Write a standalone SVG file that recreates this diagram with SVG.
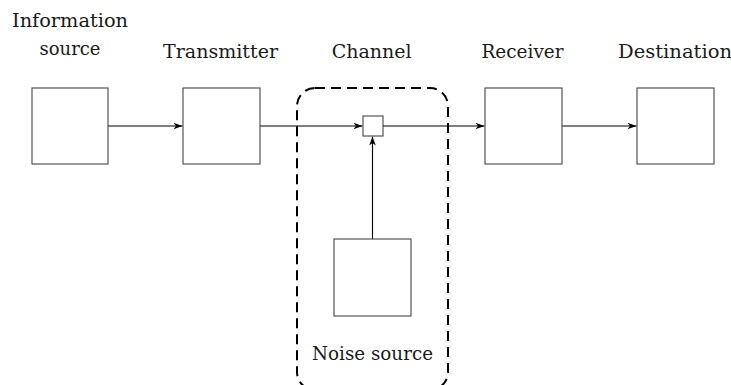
<svg xmlns="http://www.w3.org/2000/svg" width="731" height="385" viewBox="0 0 731 385">
  <defs>
    <style>
      .box { fill: #ffffff; stroke: #444444; stroke-width: 1.1; }
      .wire { fill: none; stroke: #000000; stroke-width: 1.1; }
      .label { font-family: "DejaVu Serif", "Liberation Serif", serif; font-size: 19px; fill: #1a1a1a; text-anchor: middle; }
      .channel { fill: none; stroke: #000000; stroke-width: 2; stroke-dasharray: 10 6; }
    </style>
    <marker id="arrow" markerWidth="12" markerHeight="10" viewBox="-10 -5 12 10" refX="0" refY="0" orient="auto" markerUnits="userSpaceOnUse">
      <path d="M0,0 L-9,-3.3 L-6.5,0 L-9,3.3 Z" fill="#000000"/>
    </marker>
  </defs>

  <rect width="731" height="385" fill="#ffffff"/>

  <!-- channel enclosure -->
  <rect class="channel" x="297" y="88" width="151" height="302" rx="18" ry="18"/>

  <!-- connectors -->
  <g id="connectors">
    <line class="wire" x1="108" y1="126" x2="182.5" y2="126" marker-end="url(#arrow)"/>
    <line class="wire" x1="260" y1="126" x2="362.5" y2="126" marker-end="url(#arrow)"/>
    <line class="wire" x1="383" y1="126" x2="484.5" y2="126" marker-end="url(#arrow)"/>
    <line class="wire" x1="562" y1="126" x2="636.5" y2="126" marker-end="url(#arrow)"/>
    <line class="wire" x1="372.5" y1="239" x2="372.5" y2="136.5" marker-end="url(#arrow)"/>
  </g>

  <g id="information-source">
    <rect class="box" x="32" y="88" width="76" height="76"/>
    <text class="label" x="70" y="27" textLength="116" lengthAdjust="spacingAndGlyphs">Information</text>
    <text class="label" x="70" y="54.5" textLength="61" lengthAdjust="spacingAndGlyphs">source</text>
  </g>

  <g id="transmitter">
    <rect class="box" x="183" y="88" width="77" height="76"/>
    <text class="label" x="220.5" y="57.5" textLength="115" lengthAdjust="spacingAndGlyphs">Transmitter</text>
  </g>

  <g id="channel">
    <rect class="box" x="363" y="116" width="20" height="20"/>
    <text class="label" x="371.7" y="57.5" textLength="80" lengthAdjust="spacingAndGlyphs">Channel</text>
  </g>

  <g id="noise-source">
    <rect class="box" x="334" y="239" width="77" height="77"/>
    <text class="label" x="372.5" y="360" textLength="121" lengthAdjust="spacingAndGlyphs">Noise source</text>
  </g>

  <g id="receiver">
    <rect class="box" x="485" y="88" width="77" height="76"/>
    <text class="label" x="522.5" y="57.5" textLength="82" lengthAdjust="spacingAndGlyphs">Receiver</text>
  </g>

  <g id="destination">
    <rect class="box" x="637" y="88" width="77" height="76"/>
    <text class="label" x="675" y="57.5" textLength="114" lengthAdjust="spacingAndGlyphs">Destination</text>
  </g>
</svg>
